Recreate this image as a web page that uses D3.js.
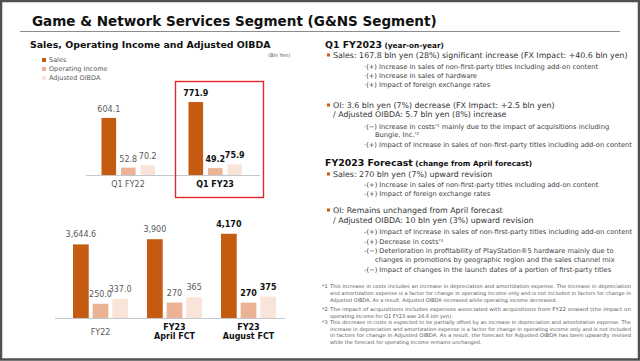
<!DOCTYPE html>
<meta charset="utf-8">
<head>
    <title>G&amp;NS Segment</title>
    <style>
        body { margin: 0; background: #fff; }
        svg { display: block; font-family: "DejaVu Sans", Verdana, sans-serif; }
    </style>
</head>
<body>
<script src="https://cdn.jsdelivr.net/npm/d3@7"></script>
<svg id="slide"></svg>
<script>
    // chart values (Bln Yen)
    var seriesNames = ["Sales", "Operating Income", "Adjusted OIBDA"];
    var quarterCats = ["Q1 FY22", "Q1 FY23"];
    var quarterSales = [604.1, 771.9];
    var quarterOI = [52.8, 49.2];
    var quarterOIBDA = [70.2, 75.9];

    var yearCats = ["FY22", "FY23\nApril FCT", "FY23\nAugust FCT"];
    var yearSales = [3644.6, 3900, 4170];
    var yearOI = [250.0, 270, 270];
    var yearOIBDA = [337.0, 365, 375];

    // right panel text
    var q1Lines = [
        ["h", "Q1 FY2023|(year-on-year)"],
        ["b", "Sales: 167.8 bln yen (28%) significant increase (FX Impact: +40.6 bln yen)"],
        ["s", "·(+) Increase in sales of non-first-party titles including add-on content"],
        ["s", "·(+) Increase in sales of hardware"],
        ["s", "·(+) Impact of foreign exchange rates"],
        ["b", "OI:  3.6 bln yen (7%) decrease (FX Impact: +2.5 bln yen)"],
        ["c", "/ Adjusted OIBDA: 5.7 bln yen (8%) increase"],
        ["s", "·(−) Increase in costs^1 mainly due to the impact of acquisitions including"],
        ["s2", "Bungie, Inc.^2"],
        ["s", "·(+) Impact of increase in sales of non-first-party titles including add-on content"]
    ];
    var fcstLines = [
        ["h", "FY2023 Forecast|(change from April forecast)"],
        ["b", "Sales: 270 bln yen (7%) upward revision"],
        ["s", "-(+) Increase in sales of non-first-party titles including add-on content"],
        ["s", "-(+) Impact of foreign exchange rates"],
        ["b", "OI: Remains unchanged from April forecast"],
        ["c", "/ Adjusted OIBDA: 10 bln yen (3%) upward revision"],
        ["s", "-(+) Impact of increase in sales of non-first-party titles including add-on content"],
        ["s", "-(+) Decrease in costs^3"],
        ["s", "-(−) Deterioration in profitability of PlayStation®5 hardware mainly due to"],
        ["s2", "changes in promotions by geographic region and the sales channel mix"],
        ["s", "-(−) Impact of changes in the launch dates of a portion of first-party titles"]
    ];
    var footnotes = [
        ["*1", ["This increase in costs includes an increase in depreciation and amortization expense. The increase in depreciation",
                "and amortization expense is a factor for change in operating income only and is not included in factors for change in",
                "Adjusted OIBDA. As a result, Adjusted OIBDA increased while operating income decreased."]],
        ["*2", ["The impact of acquisitions includes expenses associated with acquisitions from FY22 onward (the impact on",
                "operating income for Q1 FY23 was 16.6 bln yen)."]],
        ["*3", ["This decrease in costs is expected to be partially offset by an increase in depreciation and amortization expense. The",
                "increase in depreciation and amortization expense is a factor for change in operating income only and is not included",
                "in factors for change in Adjusted OIBDA. As a result, the forecast for Adjusted OIBDA has been upwardly revised",
                "while the forecast for operating income remains unchanged."]]
    ];

    var width = 640, height = 361;
    var colors = ["#C55A11", "#EBB393", "#F8E4D8"];
    var textGray = "#404040";

    var svg = d3.select("#slide").attr("width", width).attr("height", height);
    svg.append("rect").attr("width", width).attr("height", height).attr("fill", "#fff");

    // fits a text element to a target width by changing its font size
    function fit(sel, w) {
        var len = sel.node().getComputedTextLength();
        var fs = parseFloat(sel.attr("font-size"));
        sel.attr("font-size", (fs * w / len).toFixed(2));
        return fs * w / len;
    }

    // title
    var title = svg.append("text").attr("x", 32).attr("y", 26)
        .attr("font-size", 16).attr("font-weight", "bold").attr("fill", "#111")
        .text("Game & Network Services Segment (G&NS Segment)");
    fit(title, 405);
    svg.append("line").attr("x1", 20).attr("x2", 620).attr("y1", 31.5).attr("y2", 31.5)
        .attr("stroke", "#8c8c8c").attr("stroke-width", 1);

    var sub = svg.append("text").attr("x", 30).attr("y", 48)
        .attr("font-size", 11).attr("font-weight", "bold").attr("fill", "#111")
        .text("Sales, Operating Income and Adjusted OIBDA");
    fit(sub, 241);

    svg.append("text").attr("x", 268).attr("y", 57).attr("font-size", 5)
        .attr("fill", "#595959").text("(Bln Yen)");

    // legend
    var legend = svg.append("g").attr("transform", "translate(42,60)");
    seriesNames.forEach(function(name, i) {
        legend.append("rect").attr("x", 0).attr("y", i * 9 - 2).attr("width", 4).attr("height", 4)
            .attr("fill", colors[i]);
        legend.append("text").attr("x", 7).attr("y", i * 9 + 2.3).attr("font-size", 6.5)
            .attr("fill", "#595959").text(name);
    });

    // grouped bar chart with separate scales for sales and profit bars
    function drawBars(opts) {
        var g = svg.append("g");
        var x0 = d3.scaleBand().domain(opts.cats).range(opts.xRange);
        var x1 = d3.scaleBand().domain([0, 1, 2]).range(opts.inner).paddingInner(opts.pad);
        var vals = [opts.sales, opts.oi, opts.oibda];

        g.append("line").attr("x1", opts.lineX[0]).attr("x2", opts.lineX[1])
            .attr("y1", opts.base + 0.5).attr("y2", opts.base + 0.5)
            .attr("stroke", "#C3C8D0").attr("stroke-width", 1);

        opts.cats.forEach(function(cat, ci) {
            var cx = x0(cat) + x0.bandwidth() / 2;
            var hi = cat === opts.highlight;
            vals.forEach(function(arr, si) {
                var y = si === 0 ? opts.ySales : opts.yProfit;
                var v = arr[ci];
                var bx = cx + x1(si);
                g.append("rect").attr("x", bx).attr("y", y(v))
                    .attr("width", x1.bandwidth()).attr("height", opts.base - y(v))
                    .attr("fill", colors[si]);
                g.append("text").attr("x", bx + x1.bandwidth() / 2).attr("y", y(v) - opts.labelGap)
                    .attr("text-anchor", "middle").attr("font-size", 8)
                    .attr("font-weight", hi ? "bold" : "normal")
                    .attr("fill", hi ? "#111" : "#595959")
                    .text(d3.format(opts.fmt(cat))(v));
            });
            var parts = cat.split("\n");
            var t = g.append("text").attr("x", cx).attr("text-anchor", "middle").attr("font-size", 8)
                .attr("font-weight", cat.indexOf("FY23") >= 0 ? "bold" : "normal")
                .attr("fill", cat.indexOf("FY23") >= 0 ? "#111" : "#595959")
                .attr("y", parts.length > 1 ? opts.catY - 4.5 : opts.catY);
            parts.forEach(function(p, pi) {
                t.append("tspan").attr("x", cx).attr("dy", pi ? 9 : 0).text(p);
            });
        });
    }

    drawBars({
        cats: quarterCats, sales: quarterSales, oi: quarterOI, oibda: quarterOIBDA,
        xRange: [84.5, 258.5], inner: [-26.5, 27], pad: 0.25,
        ySales: d3.scaleLinear().domain([0, 800]).range([175, 175 - 75.6]),
        yProfit: d3.scaleLinear().domain([0, 100]).range([175, 161]),
        base: 175, lineX: [86, 260], catY: 187, labelGap: 6,
        highlight: "Q1 FY23",
        fmt: function() { return ".1f"; }
    });

    drawBars({
        cats: yearCats, sales: yearSales, oi: yearOI, oibda: yearOIBDA,
        xRange: [63.5, 285.5], inner: [-27.5, 27.5], pad: 0.2,
        ySales: d3.scaleLinear().domain([0, 4500]).range([318, 318 - 90.9]),
        yProfit: d3.scaleLinear().domain([0, 400]).range([318, 318 - 22.8]),
        base: 318, lineX: [55, 285], catY: 334.5, labelGap: 7,
        highlight: "FY23\nAugust FCT",
        fmt: function(c) { return c.indexOf("FCT") >= 0 ? ",.0f" : ",.1f"; }
    });

    // highlight box
    svg.append("rect").attr("x", 175.5).attr("y", 81.5).attr("width", 88).attr("height", 116)
        .attr("fill", "none").attr("stroke", "#E5262B").attr("stroke-width", 1.4);

    // right panel
    var panel = svg.append("g");
    var lineX = { h: 325, b: 333, c: 333, s: 364, s2: 375 };
    var baseSize = { b: 8, c: 8, s: 7, s2: 7 };
    var classNodes = { b: [], c: [], s: [], s2: [] };

    function addText(line, y) {
        var cls = line[0], str = line[1];
        if (cls === "h") {
            var parts = str.split("|");
            var t = panel.append("text").attr("x", lineX.h).attr("y", y)
                .attr("font-weight", "bold").attr("fill", "#111").attr("font-size", 10);
            t.append("tspan").text(parts[0]);
            t.append("tspan").attr("font-size", 7.8).text(" " + parts[1]);
            return t;
        }
        if (cls === "b") {
            panel.append("rect").attr("x", 327).attr("y", y - 4.5).attr("width", 3).attr("height", 3)
                .attr("fill", "#C55A11");
        }
        var t2 = panel.append("text").attr("x", lineX[cls]).attr("y", y)
            .attr("fill", cls === "b" || cls === "c" ? "#333" : textGray)
            .attr("font-size", baseSize[cls]);
        str.split(/(\^\d)/).forEach(function(seg) {
            if (!seg) return;
            if (seg[0] === "^") {
                t2.append("tspan").attr("font-size", "0.6em").attr("baseline-shift", "super")
                    .text("*" + seg[1]);
            } else {
                t2.append("tspan").text(seg);
            }
        });
        classNodes[cls].push(t2);
        return t2;
    }

    var q1Y = [48, 58, 69, 78, 87, 108, 117, 129, 137, 147];
    var fcstY = [166, 177, 187, 196, 213, 223, 234, 244, 253, 262, 272];
    var q1Texts = q1Lines.map(function(l, i) { return addText(l, q1Y[i]); });
    var fcstTexts = fcstLines.map(function(l, i) { return addText(l, fcstY[i]); });

    // headings and body text sized from reference line widths
    var k = q1Texts[0].node().getComputedTextLength();
    [q1Texts[0], fcstTexts[0]].forEach(function(t) {
        t.attr("font-size", 10 * 119 / k);
        t.select("tspan:nth-child(2)").attr("font-size", 7.8 * 119 / k);
    });

    var bSize = 8 * 295 / q1Texts[1].node().getComputedTextLength();
    classNodes.b.concat(classNodes.c).forEach(function(t) { t.attr("font-size", bSize); });
    var sSize = 7 * 268 / q1Texts[9].node().getComputedTextLength();
    classNodes.s.concat(classNodes.s2).forEach(function(t) { t.attr("font-size", sSize); });

    // footnotes
    var fnY = [[288, 295.3, 302.3], [310.8, 317.8], [324.3, 330.8, 337.2, 343.6]];
    footnotes.forEach(function(fn, i) {
        panel.append("text").attr("x", 322).attr("y", fnY[i][0]).attr("font-size", 5)
            .attr("fill", "#595959").text(fn[0]);
        fn[1].forEach(function(str, j) {
            var t = panel.append("text").attr("x", 330).attr("y", fnY[i][j])
                .attr("font-size", 5).attr("fill", "#595959").text(str);
            if (j < fn[1].length - 1) {
                t.attr("textLength", 301).attr("lengthAdjust", "spacingAndGlyphs");
            }
        });
    });

    // slide frame
    svg.append("rect").attr("x", 1).attr("y", 1).attr("width", width - 2).attr("height", height - 2.5)
        .attr("fill", "none").attr("stroke", "#505050").attr("stroke-width", 2.5);
</script>
</body>
</html>
